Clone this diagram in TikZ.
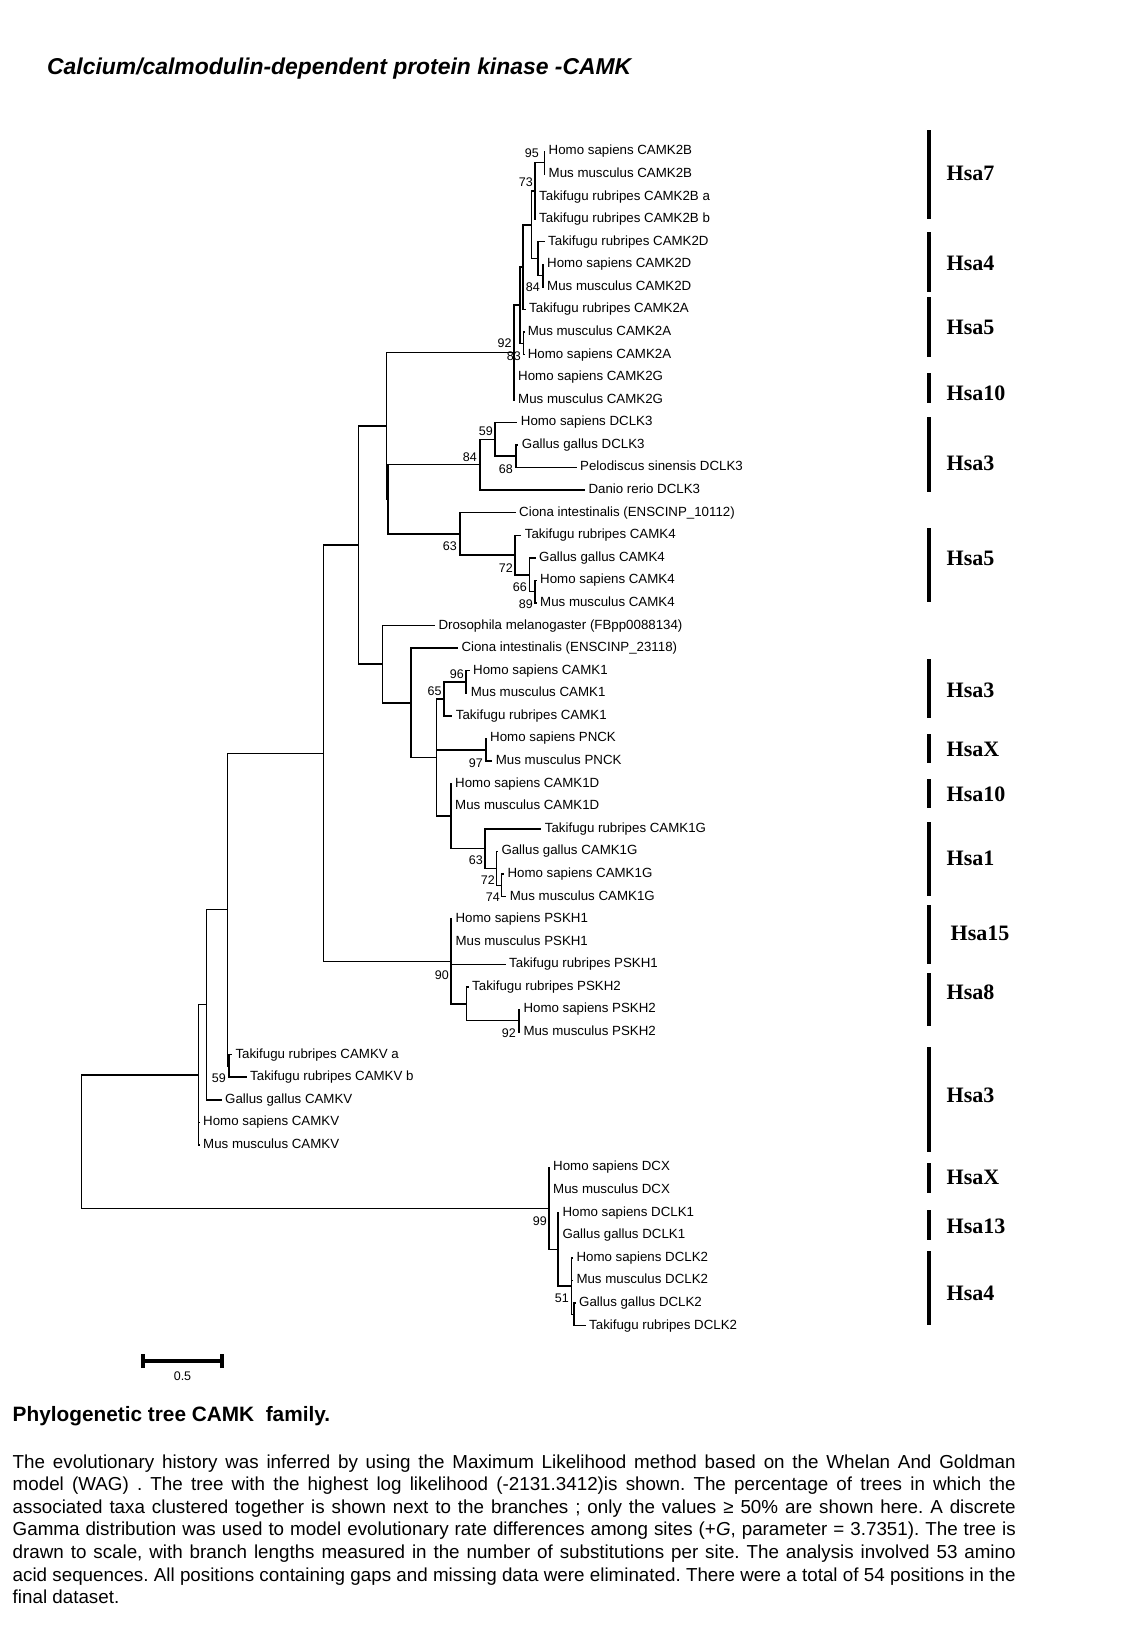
\documentclass[tikz,border=0pt]{standalone}
\usepackage{fontspec}
\setmainfont{Liberation Sans}
\newfontfamily\hsafont{Liberation Serif}
\begin{document}
\begin{tikzpicture}[x=1pt,y=-1pt,
  br/.style={line width=1.5pt, line cap=rect},
  leaf/.style={anchor=west, inner xsep=4pt, inner ysep=0pt, font=\fontsize{13.3}{15}\selectfont, text height=9.6pt, text depth=2.7pt},
  boot/.style={anchor=east, inner sep=0pt, font=\fontsize{12.5}{14}\selectfont},
  hsa/.style={anchor=west, inner sep=0pt, font=\hsafont\bfseries\fontsize{22}{24}\selectfont},
  hsabar/.style={line width=4pt},
  captionline/.style={anchor=base west, inner sep=0pt, font=\fontsize{18.8}{22}\selectfont\frenchspacing},
  declare function={L(\i)=149.4+(\i-1)*22.58;}]
\fill[white] (0,0) rectangle (1148,1638);
\useasboundingbox (0,0) rectangle (1148,1638);

% title
\node[anchor=base west, inner sep=0pt, font=\bfseries\itshape\fontsize{22.9}{26}\selectfont] (title) at (47,74) {Calcium/calmodulin-dependent protein kinase -CAMK};

\begin{scope}[yshift=-2pt]
% leaves
\node[leaf] (l1) at (544.5,{L(1)}) {Homo sapiens CAMK2B};
\node[leaf] (l2) at (544.5,{L(2)}) {Mus musculus CAMK2B};
\node[leaf] (l3) at (535,{L(3)}) {Takifugu rubripes CAMK2B a};
\node[leaf] (l4) at (535,{L(4)}) {Takifugu rubripes CAMK2B b};
\node[leaf] (l5) at (544,{L(5)}) {Takifugu rubripes CAMK2D};
\node[leaf] (l6) at (543,{L(6)}) {Homo sapiens CAMK2D};
\node[leaf] (l7) at (543,{L(7)}) {Mus musculus CAMK2D};
\node[leaf] (l8) at (525,{L(8)}) {Takifugu rubripes CAMK2A};
\node[leaf] (l9) at (523.6,{L(9)}) {Mus musculus CAMK2A};
\node[leaf] (l10) at (523.6,{L(10)}) {Homo sapiens CAMK2A};
\node[leaf] (l11) at (514,{L(11)}) {Homo sapiens CAMK2G};
\node[leaf] (l12) at (514,{L(12)}) {Mus musculus CAMK2G};
\node[leaf] (l13) at (516.7,{L(13)}) {Homo sapiens DCLK3};
\node[leaf] (l14) at (517.7,{L(14)}) {Gallus gallus DCLK3};
\node[leaf] (l15) at (576,{L(15)}) {Pelodiscus sinensis DCLK3};
\node[leaf] (l16) at (584.3,{L(16)}) {Danio rerio DCLK3};
\node[leaf] (l17) at (515,{L(17)}) {Ciona intestinalis (ENSCINP\_10112)};
\node[leaf] (l18) at (520.7,{L(18)}) {Takifugu rubripes CAMK4};
\node[leaf] (l19) at (535,{L(19)}) {Gallus gallus CAMK4};
\node[leaf] (l20) at (536,{L(20)}) {Homo sapiens CAMK4};
\node[leaf] (l21) at (536,{L(21)}) {Mus musculus CAMK4};
\node[leaf] (l22) at (434.3,{L(22)}) {Drosophila melanogaster (FBpp0088134)};
\node[leaf] (l23) at (457.3,{L(23)}) {Ciona intestinalis (ENSCINP\_23118)};
\node[leaf] (l24) at (469,{L(24)}) {Homo sapiens CAMK1};
\node[leaf] (l25) at (466.7,{L(25)}) {Mus musculus CAMK1};
\node[leaf] (l26) at (451.7,{L(26)}) {Takifugu rubripes CAMK1};
\node[leaf] (l27) at (486,{L(27)}) {Homo sapiens PNCK};
\node[leaf] (l28) at (491.7,{L(28)}) {Mus musculus PNCK};
\node[leaf] (l29) at (451,{L(29)}) {Homo sapiens CAMK1D};
\node[leaf] (l30) at (451,{L(30)}) {Mus musculus CAMK1D};
\node[leaf] (l31) at (540.7,{L(31)}) {Takifugu rubripes CAMK1G};
\node[leaf] (l32) at (497.3,{L(32)}) {Gallus gallus CAMK1G};
\node[leaf] (l33) at (503.3,{L(33)}) {Homo sapiens CAMK1G};
\node[leaf] (l34) at (505.7,{L(34)}) {Mus musculus CAMK1G};
\node[leaf] (l35) at (451.4,{L(35)}) {Homo sapiens PSKH1};
\node[leaf] (l36) at (451.4,{L(36)}) {Mus musculus PSKH1};
\node[leaf] (l37) at (505,{L(37)}) {Takifugu rubripes PSKH1};
\node[leaf] (l38) at (468,{L(38)}) {Takifugu rubripes PSKH2};
\node[leaf] (l39) at (519.3,{L(39)}) {Homo sapiens PSKH2};
\node[leaf] (l40) at (519.3,{L(40)}) {Mus musculus PSKH2};
\node[leaf] (l41) at (231.3,{L(41)}) {Takifugu rubripes CAMKV a};
\node[leaf] (l42) at (246,{L(42)}) {Takifugu rubripes CAMKV b};
\node[leaf] (l43) at (221,{L(43)}) {Gallus gallus CAMKV};
\node[leaf] (l44) at (199,{L(44)}) {Homo sapiens CAMKV};
\node[leaf] (l45) at (199,{L(45)}) {Mus musculus CAMKV};
\node[leaf] (l46) at (549,{L(46)}) {Homo sapiens DCX};
\node[leaf] (l47) at (549,{L(47)}) {Mus musculus DCX};
\node[leaf] (l48) at (558.3,{L(48)}) {Homo sapiens DCLK1};
\node[leaf] (l49) at (558.3,{L(49)}) {Gallus gallus DCLK1};
\node[leaf] (l50) at (572.3,{L(50)}) {Homo sapiens DCLK2};
\node[leaf] (l51) at (572.3,{L(51)}) {Mus musculus DCLK2};
\node[leaf] (l52) at (575,{L(52)}) {Gallus gallus DCLK2};
\node[leaf] (l53) at (585,{L(53)}) {Takifugu rubripes DCLK2};

% internal nodes
\coordinate (N95) at (544.5,160.7);
\coordinate (N73) at (535,188.9);
\coordinate (N84a) at (543,273.6);
\coordinate (Nd) at (538,256.65);
\coordinate (Nc) at (531.5,222.8);
\coordinate (Nb) at (523,265.1);
\coordinate (N83) at (523.5,341.3);
\coordinate (Na) at (520,303.2);
\coordinate (N92) at (514,350.5);
\coordinate (N68) at (516,454.2);
\coordinate (N59) at (495,437.3);
\coordinate (N84d) at (480,462.7);
\coordinate (N89) at (535,589.7);
\coordinate (N66) at (529.3,572.75);
\coordinate (N72) at (515,553.0);
\coordinate (N63) at (460,531.85);
\coordinate (Q) at (388,497.3);
\coordinate (P) at (386.7,423.9);
\coordinate (N96) at (466,680.0);
\coordinate (N65) at (444,696.95);
\coordinate (N97) at (486,747.8);
\coordinate (N74) at (501.7,883.25);
\coordinate (N72b) at (496.7,866.3);
\coordinate (X) at (485,846.55);
\coordinate (W) at (451,814.1);
\coordinate (V) at (436.7,755.5);
\coordinate (U) at (411,700.85);
\coordinate (T) at (382.7,662.2);
\coordinate (R) at (358.3,543.05);
\coordinate (N92ps) at (518.9,1018.7);
\coordinate (Np2) at (466.3,1001.8);
\coordinate (N90) at (451,959.45);
\coordinate (S) at (323.3,751.25);
\coordinate (N59cv) at (229,1063.9);
\coordinate (H) at (227.4,907.6);
\coordinate (G2) at (206.4,1002.7);
\coordinate (G1) at (198.4,1072.8);
\coordinate (N51) at (574,1312.3);
\coordinate (Nc2) at (571.7,1284.05);
\coordinate (Nb2) at (558,1247.4);
\coordinate (N99) at (549,1206.45);
\coordinate (Root) at (81.4,1139.6);

% branches
\foreach \p/\c in {N95/l1, N95/l2, N73/N95, N73/l3, N73/l4, N84a/l6, N84a/l7,
  Nd/l5, Nd/N84a, Nc/N73, Nc/Nd, Nb/Nc, Nb/l8, N83/l9, N83/l10, Na/Nb, Na/N83,
  N92/Na, N92/l11, N92/l12, N68/l14, N68/l15, N59/l13, N59/N68, N84d/N59, N84d/l16,
  N89/l20, N89/l21, N66/l19, N66/N89, N72/l18, N72/N66, N63/l17, N63/N72,
  Q/N84d, Q/N63, P/N92, P/Q, N96/l24, N96/l25, N65/N96, N65/l26, N97/l27, N97/l28,
  N74/l33, N74/l34, N72b/l32, N72b/N74, X/l31, X/N72b, W/l29, W/l30, W/X,
  V/N65, V/N97, V/W, U/l23, U/V, T/l22, T/U, R/P, R/T,
  N92ps/l39, N92ps/l40, Np2/l38, Np2/N92ps, N90/l35, N90/l36, N90/l37, N90/Np2,
  S/R, S/N90, N59cv/l41, N59cv/l42, H/S, H/N59cv, G2/H, G2/l43, G1/G2, G1/l44, G1/l45,
  N51/l52, N51/l53, Nc2/l50, Nc2/l51, Nc2/N51, Nb2/l48, Nb2/l49, Nb2/Nc2,
  N99/l46, N99/l47, N99/Nb2, Root/G1, Root/N99}
  \draw[br] (\p) |- (\c);

% bootstrap values
\node[boot] (b95) at (539,151) {95};
\node[boot] (b73) at (533,180) {73};
\node[boot] (b84a) at (540,285) {84};
\node[boot] (b92) at (511.7,341) {92};
\node[boot] (b83) at (521,354) {83};
\node[boot] (b59) at (493,429) {59};
\node[boot] (b84d) at (477,455) {84};
\node[boot] (b68) at (513,467) {68};
\node[boot] (b63a) at (457,544) {63};
\node[boot] (b72a) at (513,566) {72};
\node[boot] (b66) at (527,585) {66};
\node[boot] (b89) at (533,602) {89};
\node[boot] (b96) at (464,672) {96};
\node[boot] (b65) at (441.7,689) {65};
\node[boot] (b97) at (483,761) {97};
\node[boot] (b63b) at (483,858) {63};
\node[boot] (b72b) at (495,878) {72};
\node[boot] (b74) at (500,895) {74};
\node[boot] (b90) at (449,973) {90};
\node[boot] (b92b) at (516,1031) {92};
\node[boot] (b59b) at (226,1076) {59};
\node[boot] (b99) at (547,1219) {99};
\node[boot] (b51) at (569,1296) {51};
\end{scope}

% chromosome bars and labels
\foreach \ya/\yb in {130/219, 232/292, 297/357, 373/403, 417/492, 528/602, 659/718,
  734/763, 779/808, 822/896, 905/964, 973/1026, 1047/1152, 1163/1193, 1210/1240, 1251/1325}
  \draw[hsabar] (929,\ya) -- (929,\yb);
\node[hsa] (h1) at (946.5,173) {Hsa7};
\node[hsa] (h2) at (946.5,263) {Hsa4};
\node[hsa] (h3) at (946.5,327) {Hsa5};
\node[hsa] (h4) at (946.5,393) {Hsa10};
\node[hsa] (h5) at (946.5,463) {Hsa3};
\node[hsa] (h6) at (946.5,558) {Hsa5};
\node[hsa] (h7) at (946.5,690) {Hsa3};
\node[hsa] (h8) at (946.5,749) {HsaX};
\node[hsa] (h9) at (946.5,794) {Hsa10};
\node[hsa] (h10) at (946.5,858) {Hsa1};
\node[hsa] (h11) at (950.5,933) {Hsa15};
\node[hsa] (h12) at (946.5,992) {Hsa8};
\node[hsa] (h13) at (946.5,1095) {Hsa3};
\node[hsa] (h14) at (946.5,1177) {HsaX};
\node[hsa] (h15) at (946.5,1226) {Hsa13};
\node[hsa] (h16) at (946.5,1293) {Hsa4};

% scale bar
\coordinate (sbL) at (143,1361);
\coordinate (sbR) at (222,1361);
\draw[line width=4pt] (sbL) -- (sbR);
\draw[line width=3.5pt] ([yshift=-7pt]sbL) -- ([yshift=7pt]sbL);
\draw[line width=3.5pt] ([yshift=-7pt]sbR) -- ([yshift=7pt]sbR);
\node[inner sep=0pt, font=\fontsize{12.5}{14}\selectfont] (sblabel) at (182.5,1376) {0.5};

% caption
\node[anchor=base west, inner sep=0pt, font=\bfseries\fontsize{20.8}{24}\selectfont] (heading) at (12.5,1421) {Phylogenetic tree CAMK\ \ family.};
\node[captionline] (c1) at (12.5,1468) {\makebox[1003pt][s]{The evolutionary history was inferred by using the Maximum Likelihood method based on the Whelan And Goldman}};
\node[captionline] (c2) at (12.5,1490.6) {\makebox[1003pt][s]{model (WAG) . The tree with the highest log likelihood (-2131.3412)is shown. The percentage of trees in which the}};
\node[captionline] (c3) at (12.5,1513.2) {\makebox[1003pt][s]{associated taxa clustered together is shown next to the branches ; only the values ≥ 50\% are shown here. A discrete}};
\node[captionline] (c4) at (12.5,1535.8) {\makebox[1003pt][s]{Gamma distribution was used to model evolutionary rate differences among sites (+\textit{G}, parameter = 3.7351). The tree is}};
\node[captionline] (c5) at (12.5,1558.4) {\makebox[1003pt][s]{drawn to scale, with branch lengths measured in the number of substitutions per site. The analysis involved 53 amino}};
\node[captionline] (c6) at (12.5,1581) {\makebox[1003pt][s]{acid sequences. All positions containing gaps and missing data were eliminated. There were a total of 54 positions in the}};
\node[captionline] (c7) at (12.5,1603.6) {final dataset.};
\end{tikzpicture}
\end{document}
